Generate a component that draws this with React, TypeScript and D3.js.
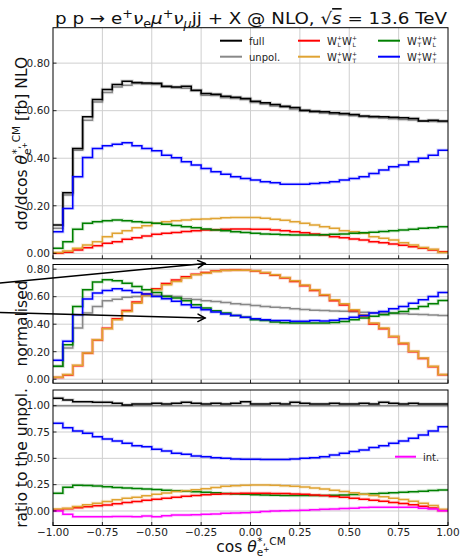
import React from "react";
import * as d3 from "d3";

// bins of cos(theta*) : 40 bins of width 0.05 on [-1, 1]
const binLow = d3.range(40).map((i) => -1 + i * 0.05);
const xTicks = [-1, -0.75, -0.5, -0.25, 0, 0.25, 0.5, 0.75, 1];

// top panel: d sigma / d cos [fb]
const full = [0.119,0.255,0.441,0.574,0.647,0.689,0.710,0.724,0.718,0.716,0.715,0.703,0.700,0.703,0.686,0.672,0.669,0.661,0.657,0.651,0.640,0.633,0.626,0.619,0.613,0.602,0.598,0.595,0.591,0.588,0.584,0.578,0.575,0.574,0.572,0.570,0.567,0.557,0.560,0.557];
const unpol = [0.105,0.245,0.434,0.560,0.637,0.676,0.700,0.707,0.714,0.712,0.710,0.700,0.696,0.694,0.684,0.665,0.664,0.654,0.651,0.647,0.634,0.628,0.620,0.614,0.607,0.598,0.593,0.590,0.586,0.583,0.579,0.574,0.571,0.569,0.566,0.563,0.561,0.557,0.555,0.553];
const LL = [0.000,0.005,0.014,0.024,0.032,0.042,0.049,0.059,0.066,0.073,0.080,0.084,0.088,0.092,0.095,0.098,0.099,0.101,0.102,0.102,0.101,0.101,0.098,0.095,0.091,0.087,0.081,0.077,0.070,0.066,0.060,0.056,0.049,0.045,0.039,0.034,0.028,0.021,0.014,0.007];
const LT = [0.003,0.010,0.021,0.035,0.049,0.070,0.084,0.095,0.108,0.116,0.126,0.133,0.137,0.140,0.143,0.144,0.147,0.150,0.151,0.151,0.151,0.148,0.143,0.139,0.133,0.126,0.119,0.112,0.105,0.095,0.091,0.084,0.070,0.063,0.056,0.045,0.035,0.025,0.017,0.003];
const TL = [0.021,0.049,0.101,0.126,0.133,0.137,0.140,0.137,0.133,0.130,0.126,0.122,0.117,0.112,0.108,0.102,0.098,0.095,0.091,0.088,0.084,0.081,0.080,0.078,0.077,0.077,0.077,0.078,0.080,0.081,0.084,0.087,0.089,0.092,0.095,0.098,0.101,0.105,0.108,0.112];
const TT = [0.091,0.189,0.322,0.403,0.441,0.452,0.459,0.465,0.452,0.441,0.431,0.413,0.402,0.385,0.371,0.357,0.343,0.333,0.322,0.315,0.308,0.301,0.297,0.291,0.291,0.291,0.294,0.297,0.301,0.308,0.315,0.322,0.336,0.350,0.364,0.371,0.385,0.400,0.413,0.434];

// middle panel: normalised shapes
const normUnpol = [0.094,0.227,0.372,0.481,0.529,0.570,0.582,0.595,0.602,0.607,0.610,0.607,0.602,0.585,0.580,0.570,0.565,0.558,0.549,0.543,0.536,0.529,0.524,0.519,0.512,0.507,0.502,0.499,0.496,0.494,0.490,0.487,0.484,0.481,0.478,0.476,0.473,0.470,0.466,0.464];
const normLL = [0.012,0.030,0.098,0.188,0.285,0.370,0.440,0.500,0.562,0.620,0.657,0.695,0.722,0.745,0.764,0.775,0.786,0.792,0.794,0.793,0.787,0.773,0.755,0.735,0.710,0.680,0.645,0.610,0.571,0.540,0.498,0.460,0.402,0.366,0.308,0.258,0.200,0.150,0.090,0.032];
const normLT = [0.015,0.034,0.101,0.191,0.287,0.367,0.433,0.493,0.553,0.609,0.650,0.686,0.710,0.735,0.759,0.771,0.783,0.790,0.792,0.792,0.788,0.776,0.759,0.740,0.715,0.685,0.650,0.614,0.577,0.548,0.505,0.468,0.408,0.372,0.312,0.263,0.203,0.155,0.094,0.034];
const normTL = [0.094,0.250,0.529,0.650,0.706,0.723,0.715,0.698,0.674,0.650,0.631,0.602,0.590,0.570,0.541,0.517,0.497,0.481,0.464,0.450,0.433,0.426,0.416,0.411,0.408,0.408,0.408,0.408,0.413,0.420,0.433,0.445,0.457,0.469,0.481,0.493,0.512,0.529,0.549,0.573];
const normTT = [0.138,0.276,0.468,0.584,0.626,0.645,0.657,0.645,0.631,0.619,0.602,0.585,0.566,0.541,0.522,0.505,0.488,0.474,0.464,0.450,0.440,0.433,0.426,0.426,0.421,0.421,0.426,0.424,0.428,0.440,0.450,0.464,0.481,0.493,0.512,0.529,0.553,0.577,0.602,0.631];

// bottom panel: ratio to the unpolarised result
const ratioFull = [1.070,1.054,1.038,1.038,1.032,1.032,1.022,1.006,1.016,1.016,1.022,1.016,1.022,1.032,1.022,1.016,1.022,1.016,1.022,1.038,1.016,1.016,1.022,1.016,1.032,1.022,1.016,1.016,1.022,1.016,1.016,1.022,1.016,1.032,1.022,1.016,1.022,1.016,1.016,1.016];
const ratioUnpol = [1,1,1,1,1,1,1,1,1,1,1,1,1,1,1,1,1,1,1,1,1,1,1,1,1,1,1,1,1,1,1,1,1,1,1,1,1,1,1,1];
const ratioLL = [0.010,0.020,0.030,0.040,0.049,0.057,0.068,0.080,0.090,0.102,0.112,0.122,0.131,0.140,0.148,0.155,0.160,0.164,0.167,0.168,0.169,0.168,0.167,0.165,0.162,0.158,0.152,0.146,0.138,0.130,0.121,0.112,0.102,0.092,0.081,0.070,0.058,0.044,0.028,0.005];
const ratioLT = [0.019,0.026,0.042,0.058,0.074,0.090,0.106,0.122,0.131,0.144,0.160,0.170,0.186,0.192,0.202,0.212,0.224,0.234,0.240,0.244,0.247,0.247,0.244,0.240,0.234,0.228,0.218,0.208,0.196,0.186,0.172,0.160,0.148,0.136,0.122,0.108,0.092,0.074,0.052,0.016];
const ratioTL = [0.168,0.225,0.245,0.242,0.236,0.230,0.224,0.218,0.213,0.208,0.203,0.198,0.193,0.188,0.183,0.178,0.172,0.167,0.162,0.158,0.155,0.152,0.150,0.148,0.147,0.146,0.146,0.147,0.149,0.152,0.156,0.160,0.164,0.168,0.173,0.178,0.183,0.188,0.194,0.200];
const ratioTT = [0.833,0.791,0.760,0.738,0.706,0.684,0.665,0.643,0.620,0.611,0.586,0.570,0.548,0.538,0.522,0.516,0.506,0.500,0.494,0.491,0.491,0.488,0.488,0.488,0.494,0.500,0.506,0.516,0.532,0.548,0.564,0.579,0.602,0.620,0.643,0.665,0.690,0.722,0.760,0.801];
const ratioInt = [0.000,-0.032,-0.054,-0.054,-0.054,-0.054,-0.052,-0.052,-0.054,-0.048,-0.054,-0.045,-0.038,-0.038,-0.036,-0.032,-0.028,-0.022,-0.019,-0.016,-0.012,-0.006,0.000,0.002,0.005,0.008,0.012,0.016,0.019,0.024,0.027,0.032,0.035,0.036,0.036,0.036,0.035,0.026,0.019,0.002];

const C = {
  full: "#000000",
  unpol: "#888888",
  LL: "#ff0000",
  LT: "#e0a332",
  TL: "#008000",
  TT: "#0000ff",
  int: "#ff00ff",
};

const FONT = "DejaVu Sans, sans-serif";
const x = d3.scaleLinear().domain([-1, 1]).range([53, 448]);

const panels = [
  {
    id: "top", y0: 27.7, y1: 258.8, domain: [-0.023, 0.949], ticks: [0, 0.2, 0.4, 0.6, 0.8], fmt: ".2f",
    series: [
      { v: unpol, c: C.unpol }, { v: full, c: C.full }, { v: LL, c: C.LL },
      { v: LT, c: C.LT }, { v: TL, c: C.TL }, { v: TT, c: C.TT },
    ],
  },
  {
    id: "mid", y0: 264.5, y1: 383.2, domain: [-0.029, 0.834], ticks: [0, 0.2, 0.4, 0.6, 0.8], fmt: ".2f",
    series: [
      { v: normUnpol, c: C.unpol }, { v: normLL, c: C.LL }, { v: normLT, c: C.LT },
      { v: normTL, c: C.TL }, { v: normTT, c: C.TT },
    ],
  },
  {
    id: "bot", y0: 390, y1: 525.5, domain: [-0.138, 1.149], ticks: [0, 0.25, 0.5, 0.75, 1], fmt: ".2f",
    series: [
      { v: ratioUnpol, c: C.unpol }, { v: ratioFull, c: C.full }, { v: ratioTT, c: C.TT },
      { v: ratioTL, c: C.TL }, { v: ratioLL, c: C.LL }, { v: ratioLT, c: C.LT },
      { v: ratioInt, c: C.int },
    ],
  },
];

type Seg = { t: string; shift?: number; size?: number; italic?: boolean; dx?: number; over?: boolean };

function Rich({ segs, base }: { segs: Seg[]; base: number }) {
  let cur = 0;
  return (
    <>
      {segs.map((s, i) => {
        const sh = s.shift ?? 0;
        const dy = sh - cur;
        cur = sh;
        return (
          <tspan key={i} dy={dy} dx={s.dx} fontSize={s.size ?? base}
            fontStyle={s.italic ? "italic" : undefined}
            textDecoration={s.over ? "overline" : undefined}>
            {s.t}
          </tspan>
        );
      })}
    </>
  );
}

// W^+_a W^+_b legend label
function WW({ x0, y, a, b }: { x0: number; y: number; a: string; b: string }) {
  const wW = 9.9;
  const sc = 5.2;
  return (
    <g fontFamily={FONT} fill="#222">
      <text x={x0} y={y} fontSize={10}>W</text>
      <text x={x0 + wW} y={y - 4.5} fontSize={6}>+</text>
      <text x={x0 + wW + 0.5} y={y + 2.5} fontSize={6}>{a}</text>
      <text x={x0 + wW + sc} y={y} fontSize={10}>W</text>
      <text x={x0 + 2 * wW + sc} y={y - 4.5} fontSize={6}>+</text>
      <text x={x0 + 2 * wW + sc + 0.5} y={y + 2.5} fontSize={6}>{b}</text>
    </g>
  );
}

function Arrow({ x1, y1, x2, y2 }: { x1: number; y1: number; x2: number; y2: number }) {
  const ang = Math.atan2(y2 - y1, x2 - x1);
  const L = 8;
  const a = (28 * Math.PI) / 180;
  const p1 = [x2 - L * Math.cos(ang - a), y2 - L * Math.sin(ang - a)];
  const p2 = [x2 - L * Math.cos(ang + a), y2 - L * Math.sin(ang + a)];
  return (
    <g stroke="#000" strokeWidth={1.5} fill="none" strokeLinecap="round">
      <line x1={x1} y1={y1} x2={x2} y2={y2} />
      <polyline points={`${p1[0]},${p1[1]} ${x2},${y2} ${p2[0]},${p2[1]}`} />
    </g>
  );
}

export default function App() {
  const thetaLabel = (base: number): Seg[] => [
    { t: "θ", italic: true },
    { t: "e", shift: 4, size: base * 0.68 },
    { t: "+", shift: 0.5, size: base * 0.48 },
    { t: "*, CM", shift: -7, size: base * 0.68, dx: -base * 0.78 },
  ];

  return (
    <svg width={462} height={558} viewBox="0 0 462 558"
      style={{ position: "absolute", left: 0, top: 0, display: "block", background: "#fff" }}>
      <rect width={462} height={558} fill="#fff" />
      <defs>
        {panels.map((p) => (
          <clipPath id={`clip-${p.id}`} key={p.id}>
            <rect x={53} y={p.y0} width={395} height={p.y1 - p.y0} />
          </clipPath>
        ))}
      </defs>

      {panels.map((p) => {
        const y = d3.scaleLinear().domain(p.domain).range([p.y1, p.y0]);
        const fmt = d3.format(p.fmt);
        const line = d3
          .line<[number, number]>()
          .x((d) => x(d[0]))
          .y((d) => y(d[1]))
          .curve(d3.curveStepAfter);
        const pathOf = (v: number[]) => {
          const pts: [number, number][] = v.map((val, i) => [binLow[i], val]);
          pts.push([1, v[v.length - 1]]);
          return line(pts) as string;
        };
        return (
          <g key={p.id}>
            {/* grid */}
            <g stroke="#cfcfcf" strokeWidth={1}>
              {xTicks.slice(1, -1).map((t) => (
                <line key={`gx${t}`} x1={x(t)} x2={x(t)} y1={p.y0} y2={p.y1} />
              ))}
              {p.ticks.map((t) => (
                <line key={`gy${t}`} x1={53} x2={448} y1={y(t)} y2={y(t)} />
              ))}
            </g>
            {/* series */}
            <g clipPath={`url(#clip-${p.id})`} fill="none">
              {p.series.map((s, i) => (
                <g key={i}>
                  <path d={pathOf(s.v)} stroke={s.c} strokeWidth={3.4} strokeOpacity={0.16} />
                  <path d={pathOf(s.v)} stroke={s.c} strokeWidth={1.5} />
                </g>
              ))}
            </g>
            {/* ticks */}
            <g stroke="#000" strokeWidth={0.8}>
              {p.ticks.map((t) => (
                <line key={`ty${t}`} x1={53} x2={56.5} y1={y(t)} y2={y(t)} />
              ))}
              {xTicks.map((t) => (
                <line key={`tx${t}`} x1={x(t)} x2={x(t)} y1={p.y1} y2={p.y1 - 3.5} />
              ))}
            </g>
            <g fontFamily={FONT} fontSize={10.5} fill="#222" textAnchor="end">
              {p.ticks.map((t) => (
                <text key={`ly${t}`} x={50} y={y(t) + 3.8}>{fmt(t)}</text>
              ))}
            </g>
            <rect x={53} y={p.y0} width={395} height={p.y1 - p.y0} fill="none" stroke="#000" strokeWidth={1} />
          </g>
        );
      })}

      {/* x tick labels (bottom panel only) */}
      <g fontFamily={FONT} fontSize={10.5} fill="#222" textAnchor="middle">
        {xTicks.map((t) => (
          <text key={t} x={x(t)} y={535.5}>{d3.format(".2f")(t)}</text>
        ))}
      </g>

      {/* legend, top panel */}
      <g strokeWidth={2}>
        <line x1={220} x2={242} y1={40.7} y2={40.7} stroke={C.full} />
        <line x1={220} x2={242} y1={56.7} y2={56.7} stroke={C.unpol} />
        <line x1={298} x2={320} y1={40.7} y2={40.7} stroke={C.LL} />
        <line x1={298} x2={320} y1={56.7} y2={56.7} stroke={C.LT} />
        <line x1={378} x2={400} y1={40.7} y2={40.7} stroke={C.TL} />
        <line x1={378} x2={400} y1={56.7} y2={56.7} stroke={C.TT} />
      </g>
      <g fontFamily={FONT} fontSize={10} fill="#222">
        <text x={249} y={44.5}>full</text>
        <text x={249} y={60.5}>unpol.</text>
      </g>
      <WW x0={327} y={44.5} a="L" b="L" />
      <WW x0={327} y={60.5} a="L" b="T" />
      <WW x0={407} y={44.5} a="T" b="L" />
      <WW x0={407} y={60.5} a="T" b="T" />

      {/* legend, bottom panel */}
      <line x1={395} x2={416} y1={456.7} y2={456.7} stroke={C.int} strokeWidth={2} />
      <text x={423} y={460.5} fontFamily={FONT} fontSize={10} fill="#222">int.</text>

      {/* title */}
      <text x={55} y={24} fontFamily={FONT} fill="#111" textLength={392} lengthAdjust="spacingAndGlyphs"
        style={{ whiteSpace: "pre" }}>
        <Rich base={16.5} segs={[
          { t: "p p → e" },
          { t: "+", shift: -6, size: 11.5 },
          { t: "ν", shift: 0, italic: true },
          { t: "e", shift: 3.5, size: 11.5 },
          { t: "μ", shift: 0, italic: true },
          { t: "+", shift: -6, size: 11.5 },
          { t: "ν", shift: 0, italic: true },
          { t: "μ", shift: 3.5, size: 11.5, italic: true },
          { t: "jj + X @ NLO, ", shift: 0 },
          { t: "√", shift: 0 },
          { t: "s", italic: true, over: true },
          { t: " = 13.6 TeV" },
        ]} />
      </text>

      {/* axis labels */}
      <text transform="translate(26.5,143.5) rotate(-90)" textAnchor="middle" fontFamily={FONT} fill="#111"
        style={{ whiteSpace: "pre" }}>
        <Rich base={15.5} segs={[{ t: "dσ/dcos " }, ...thetaLabel(15.5), { t: " [fb] NLO", shift: 0 }]} />
      </text>
      <text transform="translate(26.5,323.5) rotate(-90)" textAnchor="middle" fontFamily={FONT} fontSize={15.5} fill="#111">
        normalised
      </text>
      <text transform="translate(26.5,458) rotate(-90)" textAnchor="middle" fontFamily={FONT} fontSize={15.5} fill="#111">
        ratio to the unpol.
      </text>
      <text x={251} y={551.5} textAnchor="middle" fontFamily={FONT} fill="#111" style={{ whiteSpace: "pre" }}>
        <Rich base={15.5} segs={[{ t: "cos " }, ...thetaLabel(15.5)]} />
      </text>

      {/* annotation arrows */}
      <Arrow x1={0} y1={283} x2={205} y2={263.5} />
      <Arrow x1={0} y1={312.5} x2={205} y2={318} />
    </svg>
  );
}
